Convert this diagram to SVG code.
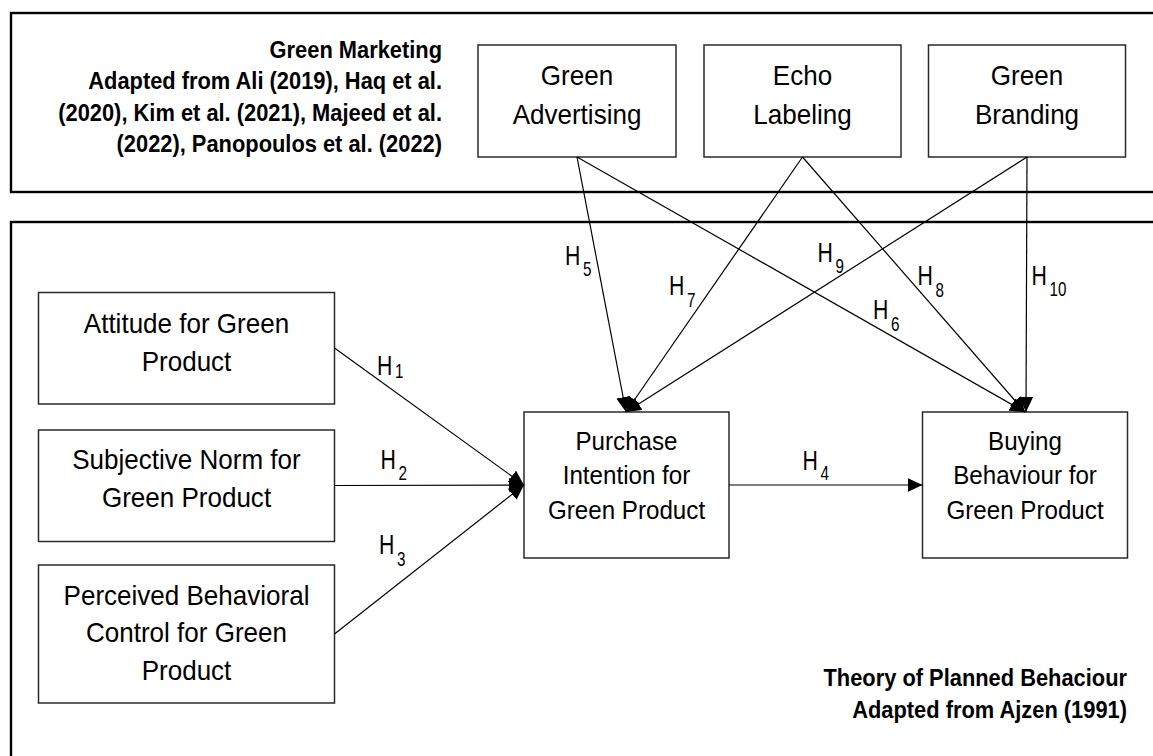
<svg xmlns="http://www.w3.org/2000/svg" width="1153" height="756" viewBox="0 0 1153 756">
<style>
  .frame { fill: none; stroke: #000; stroke-width: 2.4; }
  .box { fill: #fff; stroke: #2a2a2a; stroke-width: 1.5; }
  .t { font-family: "Liberation Sans", Arial, sans-serif; font-size: 28px; fill: #000; text-anchor: middle; }
  .tm { font-family: "Liberation Sans", Arial, sans-serif; font-size: 26px; fill: #000; text-anchor: middle; }
  .b { font-family: "Liberation Sans", Arial, sans-serif; font-size: 23.5px; font-weight: bold; fill: #000; text-anchor: end; }
  .h { font-family: "Liberation Sans", Arial, sans-serif; font-size: 28px; fill: #000; }
  .s { font-size: 20px; }
  .c { fill: none; stroke: #000; stroke-width: 1.2; }
</style>
<defs>
  <marker id="arr" markerUnits="userSpaceOnUse" markerWidth="16" markerHeight="15" refX="15" refY="7" orient="auto">
    <path d="M0,0 L15,7 L0,14 z" fill="#000"/>
  </marker>
</defs>
<rect width="1153" height="756" fill="#fff"/>

<g id="frames">
  <rect class="frame" x="11" y="13" width="1170" height="179"/>
  <rect class="frame" x="11" y="222" width="1170" height="560"/>
</g>

<g id="label-green-marketing">
  <g transform="translate(442 0) scale(0.93 1)">
    <text class="b" x="0" y="58">Green Marketing</text>
    <text class="b" x="0" y="89.5">Adapted from Ali (2019), Haq et al.</text>
    <text class="b" x="0" y="121">(2020), Kim et al. (2021), Majeed et al.</text>
    <text class="b" x="0" y="152.5">(2022), Panopoulos et al. (2022)</text>
  </g>
</g>

<g id="label-tpb">
  <g transform="translate(1127 0) scale(0.93 1)">
    <text class="b" x="0" y="686">Theory of Planned Behaciour</text>
    <text class="b" x="0" y="718">Adapted from Ajzen (1991)</text>
  </g>
</g>

<g id="green-advertising">
  <rect class="box" x="478" y="45" width="198" height="112"/>
  <g transform="translate(577 0) scale(0.93 1)">
    <text class="t" x="0" y="85.5">Green</text>
    <text class="t" x="0" y="124">Advertising</text>
  </g>
</g>

<g id="echo-labeling">
  <rect class="box" x="704" y="45" width="197" height="112"/>
  <g transform="translate(802.5 0) scale(0.93 1)">
    <text class="t" x="0" y="85.5">Echo</text>
    <text class="t" x="0" y="124">Labeling</text>
  </g>
</g>

<g id="green-branding">
  <rect class="box" x="928.5" y="45" width="197" height="112"/>
  <g transform="translate(1027 0) scale(0.93 1)">
    <text class="t" x="0" y="85.5">Green</text>
    <text class="t" x="0" y="124">Branding</text>
  </g>
</g>

<g id="attitude">
  <rect class="box" x="38.5" y="292.5" width="296" height="111.5"/>
  <g transform="translate(186.5 0) scale(0.93 1)">
    <text class="t" x="0" y="333">Attitude for Green</text>
    <text class="t" x="0" y="371">Product</text>
  </g>
</g>

<g id="subjective-norm">
  <rect class="box" x="38.5" y="430" width="296" height="111.5"/>
  <g transform="translate(186.5 0) scale(0.93 1)">
    <text class="t" x="0" y="469">Subjective Norm for</text>
    <text class="t" x="0" y="507">Green Product</text>
  </g>
</g>

<g id="perceived-control">
  <rect class="box" x="38.5" y="565" width="296" height="138"/>
  <g transform="translate(186.5 0) scale(0.93 1)">
    <text class="t" x="0" y="605">Perceived Behavioral</text>
    <text class="t" x="0" y="642.5">Control for Green</text>
    <text class="t" x="0" y="680">Product</text>
  </g>
</g>

<g id="purchase-intention">
  <rect class="box" x="524" y="412" width="205" height="146"/>
  <g transform="translate(626.5 0) scale(0.93 1)">
    <text class="tm" x="0" y="450">Purchase</text>
    <text class="tm" x="0" y="484.5">Intention for</text>
    <text class="tm" x="0" y="519.5">Green Product</text>
  </g>
</g>

<g id="buying-behaviour">
  <rect class="box" x="922.5" y="412" width="205" height="146"/>
  <g transform="translate(1025 0) scale(0.93 1)">
    <text class="tm" x="0" y="450">Buying</text>
    <text class="tm" x="0" y="484.5">Behaviour for</text>
    <text class="tm" x="0" y="519.5">Green Product</text>
  </g>
</g>

<g id="connectors">
  <line class="c" x1="334.5" y1="348" x2="524" y2="485" marker-end="url(#arr)"/>
  <line class="c" x1="334.5" y1="485.5" x2="524" y2="485" marker-end="url(#arr)"/>
  <line class="c" x1="334.5" y1="634" x2="524" y2="485" marker-end="url(#arr)"/>
  <line class="c" x1="729" y1="485" x2="922.5" y2="485" marker-end="url(#arr)"/>
  <line class="c" x1="577" y1="157" x2="626" y2="412" marker-end="url(#arr)"/>
  <line class="c" x1="577" y1="157" x2="1025" y2="412" marker-end="url(#arr)"/>
  <line class="c" x1="802.5" y1="157" x2="626" y2="412" marker-end="url(#arr)"/>
  <line class="c" x1="802.5" y1="157" x2="1025" y2="412" marker-end="url(#arr)"/>
  <line class="c" x1="1027" y1="157" x2="626" y2="412" marker-end="url(#arr)"/>
  <line class="c" x1="1027" y1="157" x2="1026" y2="412" marker-end="url(#arr)"/>
</g>

<g id="connector-labels">
  <text class="h" transform="translate(377 375) scale(0.76 1)">H<tspan class="s" dx="3.5" dy="3">1</tspan></text>
  <text class="h" transform="translate(380.5 468.5) scale(0.76 1)">H<tspan class="s" dx="3.5" dy="11.5">2</tspan></text>
  <text class="h" transform="translate(379 554) scale(0.76 1)">H<tspan class="s" dx="3.5" dy="12">3</tspan></text>
  <text class="h" transform="translate(802.5 469.5) scale(0.76 1)">H<tspan class="s" dx="3.5" dy="10">4</tspan></text>
  <text class="h" transform="translate(565 265) scale(0.76 1)">H<tspan class="s" dx="3.5" dy="10.5">5</tspan></text>
  <text class="h" transform="translate(873 318.5) scale(0.76 1)">H<tspan class="s" dx="3.5" dy="12.5">6</tspan></text>
  <text class="h" transform="translate(669 295) scale(0.76 1)">H<tspan class="s" dx="3.5" dy="11.5">7</tspan></text>
  <text class="h" transform="translate(917.5 285) scale(0.76 1)">H<tspan class="s" dx="3.5" dy="11.5">8</tspan></text>
  <text class="h" transform="translate(817.5 262) scale(0.76 1)">H<tspan class="s" dx="3.5" dy="10.5">9</tspan></text>
  <text class="h" transform="translate(1031.5 285) scale(0.76 1)">H<tspan class="s" dx="3.5" dy="11">10</tspan></text>
</g>
</svg>
